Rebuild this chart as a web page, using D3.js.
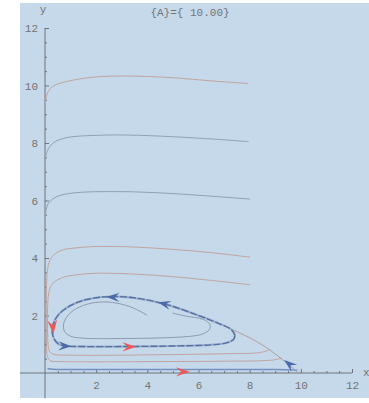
<!DOCTYPE html>
<html>
<head>
<meta charset="utf-8">
<script src="https://cdn.jsdelivr.net/npm/d3@7"></script>
<style>
html,body{margin:0;padding:0;background:#ffffff;}
svg{display:block;}
text{font-family:"Liberation Mono","DejaVu Sans Mono",monospace;}
</style>
</head>
<body>
<svg id="chart" width="369" height="403"></svg>
<script>
// ---- data (data units) ----
const titleText = "{A}={ 10.00}";
const xTicks = [2, 4, 6, 8, 10, 12];
const yTicks = [2, 4, 6, 8, 10, 12];

const trajTop = [[7.93,10.07],[6.5,10.16],[5,10.27],[3.2,10.33],[2,10.3],[1.37,10.23],[0.9,10.15],[0.59,10.08],[0.3,9.97],[0.13,9.8],[0.05,9.6],[0.01,9.35]];
const traj8 = [[7.94,8.05],[6.5,8.14],[4.5,8.24],[2.93,8.28],[1.8,8.26],[1.1,8.22],[0.72,8.16],[0.4,8.05],[0.2,7.89],[0.08,7.7],[0.02,7.5]];
const traj6 = [[8.0,6.05],[6.5,6.15],[5,6.24],[3.5,6.3],[1.76,6.3],[1.1,6.26],[0.59,6.18],[0.3,6.05],[0.13,5.9],[0.05,5.7],[0.02,5.45]];
const traj4 = [[8.0,4.03],[6.45,4.19],[5,4.3],[3.5,4.38],[2.02,4.4],[1.2,4.35],[0.72,4.29],[0.4,4.15],[0.2,3.94],[0.1,3.6],[0.06,3.0],[0.05,2.0],[0.06,1.0],[0.09,0.6],[0.2,0.43],[0.6,0.4],[2,0.39],[5,0.4],[7,0.41],[8.6,0.43],[9.05,0.47],[9.25,0.52]];
const traj3 = [[8.0,3.07],[6.5,3.22],[4.88,3.36],[3.5,3.44],[2.02,3.47],[1.3,3.42],[0.85,3.36],[0.5,3.25],[0.26,3.07],[0.15,2.8],[0.1,2.2],[0.1,1.5],[0.12,1.0],[0.18,0.75],[0.35,0.65],[1,0.62],[3,0.62],[5,0.64],[7,0.67],[8.3,0.7],[8.6,0.75],[8.79,0.82]];
const trajDiag = [[9.85,0.03],[9.7,0.16],[9.3,0.45],[8.79,0.8],[8.2,1.13],[7.36,1.5],[6.5,1.85],[5.5,2.15],[4.88,2.33],[4,2.52],[3,2.64],[2.5,2.66]];
const trajInner = [[3.97,2.02],[3.4,2.28],[2.8,2.43],[2.15,2.47],[1.5,2.35],[1.0,2.1],[0.74,1.75],[0.76,1.45],[1.0,1.28],[1.5,1.21],[3,1.2],[4.5,1.22],[5.6,1.27],[6.1,1.34],[6.42,1.5],[6.45,1.68],[6.2,1.86],[5.5,1.98],[5.0,2.08]];
const trajBottom = [[0.12,0.15],[0.3,0.13],[1,0.12],[5,0.12],[9,0.12],[9.85,0.1]];
const limitCycle = [[7.42,1.32],[7.3,1.5],[6.8,1.72],[6,2.0],[4.8,2.37],[3.6,2.6],[2.54,2.66],[1.6,2.55],[1.0,2.35],[0.55,2.05],[0.34,1.75],[0.28,1.45],[0.36,1.18],[0.54,1.0],[0.8,0.94],[1.5,0.92],[3,0.92],[5,0.94],[6.5,0.98],[7.1,1.05],[7.38,1.18],[7.42,1.32]];

// arrows: tip position and direction (data units)
const arrowX = [2.4, 4.41, 1.03, 9.35, 0.33, 3.57, 5.66];
const arrowY = [2.64, 2.46, 0.93, 0.45, 1.36, 0.91, 0.04];
const arrowDX = [-1, -1, 1, -1, 0.1, 1, 1];
const arrowDY = [0.02, 0.22, -0.03, 0.72, -1, 0, 0];
const arrowKind = ["blue","blue","blue","blue","red","red","red"];

// ---- drawing ----
const svg = d3.select("#chart");
svg.append("rect").attr("x",20).attr("y",3).attr("width",349).attr("height",395).attr("fill","#c6d9ea");

const x = d3.scaleLinear().domain([0,12]).range([45,352]);
const y = d3.scaleLinear().domain([0,12]).range([373,28]);

const tickColor = "#6f737b";
const textColor = "#747474";

// x axis
const xMinor = d3.range(0.5, 12.01, 0.5).filter(v => v % 2 !== 0);
const gx = svg.append("g").attr("transform",`translate(0,${y(0)})`);
gx.call(d3.axisBottom(x).tickValues(xTicks).tickSize(-4).tickPadding(8).tickFormat(d3.format("d")));
gx.append("g").call(d3.axisBottom(x).tickValues(xMinor).tickSize(-2).tickFormat(""));
gx.selectAll(".domain").remove();
gx.append("line").attr("x1",x(-0.98)).attr("x2",x(12)).attr("stroke",tickColor).attr("stroke-width",1);
gx.selectAll(".tick line").attr("stroke",tickColor);
gx.selectAll(".tick text").attr("fill",textColor).style("font-size","11px").style("font-family","'Liberation Mono',monospace");

// y axis
const yMinor = d3.range(0.5, 12.01, 0.5).filter(v => v % 2 !== 0);
const gy = svg.append("g").attr("transform",`translate(${x(0)},0)`);
gy.call(d3.axisLeft(y).tickValues(yTicks).tickSize(-4).tickPadding(7).tickFormat(d3.format("d")));
gy.append("g").call(d3.axisLeft(y).tickValues(yMinor).tickSize(-2).tickFormat(""));
gy.selectAll(".domain").remove();
gy.append("line").attr("y1",y(12)).attr("y2",y(-0.88)).attr("stroke",tickColor).attr("stroke-width",1);
gy.selectAll(".tick line").attr("stroke",tickColor);
gy.selectAll(".tick text").attr("fill",textColor).style("font-size","11px").style("font-family","'Liberation Mono',monospace");

// labels
svg.append("text").attr("x",x(0)-2).attr("y",13).attr("text-anchor","middle").attr("fill",textColor).style("font-size","11px").text("y");
svg.append("text").attr("x",x(12)+11).attr("y",y(0)+3).attr("text-anchor","start").attr("fill",textColor).style("font-size","11px").text("x");
svg.append("text").attr("x",190).attr("y",16).attr("text-anchor","middle").attr("fill",textColor).style("font-size","11px").text(titleText);

// trajectories
const line = d3.line().x(d => x(d[0])).y(d => y(d[1])).curve(d3.curveCatmullRom.alpha(0.5));
const tan = "#c2a49f", gray = "#919fb6";
function draw(data, color, w, dash) {
  const p = svg.append("path").attr("d", line(data)).attr("fill","none")
    .attr("stroke", color).attr("stroke-width", w).attr("stroke-linejoin","round").attr("stroke-linecap","round");
  if (dash) p.attr("stroke-dasharray", dash);
  return p;
}
draw(trajTop, tan, 1);
draw(traj8, gray, 1);
draw(traj6, gray, 1);
draw(traj4, tan, 1);
draw(traj3, tan, 1);
draw(trajDiag, "#b39da0", 1);
draw(trajInner, "#8e9ab0", 1);
draw(trajBottom, "#7391c4", 1.5);
draw(limitCycle, "#9fb2d4", 2.2);
draw(limitCycle, "#56719f", 1.4, "6,3");

// arrows
const arrowFill = {blue:"#4b68a8", red:"#ec5959"};
arrowX.forEach((ax, i) => {
  const sx = x(ax), sy = y(arrowY[i]);
  const vx = x(ax + arrowDX[i]*0.1) - sx, vy = y(arrowY[i] + arrowDY[i]*0.1) - sy;
  const ang = Math.atan2(vy, vx) * 180 / Math.PI;
  const L = arrowKind[i] === "red" ? 14 : 13, W = arrowKind[i] === "red" && i === 4 ? 5 : 4.6;
  svg.append("path")
    .attr("d", `M0,0 L${-L},${-W} L${-L*0.62},0 L${-L},${W} Z`)
    .attr("transform", `translate(${sx},${sy}) rotate(${ang})`)
    .attr("fill", arrowFill[arrowKind[i]]);
});
</script>
</body>
</html>
